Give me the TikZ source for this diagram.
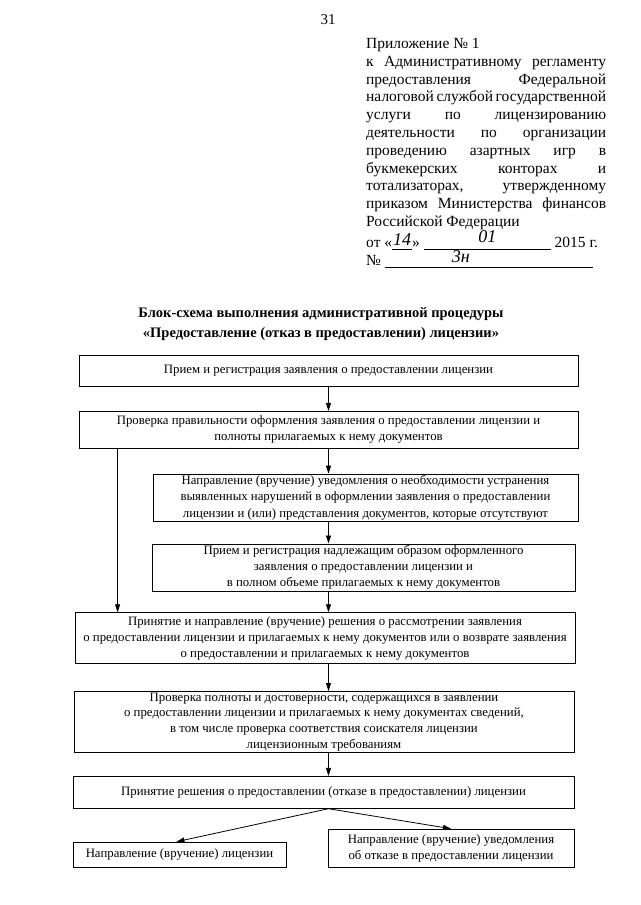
\documentclass[tikz,border=0pt]{standalone}
\usepackage{fontspec}
\setmainfont{Liberation Serif}
\usetikzlibrary{positioning, arrows.meta}

\newcommand{\jline}[1]{\makebox[240pt][s]{#1}}
\newcommand{\hw}{\itshape\fontsize{18}{18}\selectfont}

\begin{document}
\begin{tikzpicture}[x=1pt, y=1pt, node distance=25pt,
  blk/.style={draw, rectangle, line width=0.8pt, align=center, inner xsep=2pt, inner ysep=1pt,
    font=\fontsize{12.8}{16.2}\selectfont},
  arr/.style={-{Triangle[length=8pt, width=5pt]}, line width=0.8pt}]
\useasboundingbox (0,0) rectangle (640,-905);

\node (pg) at (328,-20) {\fontsize{15}{18}\selectfont 31};

% approval stamp
\node[anchor=north west, align=left, inner sep=0pt, font=\fontsize{15.5}{17.8}\selectfont] (appx) at (366,-38) {%
Приложение № 1\\
\jline{к Административному регламенту}\\
\jline{предоставления Федеральной}\\
\jline{налоговой службой государственной}\\
\jline{услуги по лицензированию}\\
\jline{деятельности по организации}\\
\jline{проведению азартных игр в}\\
\jline{букмекерских конторах и}\\
\jline{тотализаторах, утвержденному}\\
\jline{приказом Министерства финансов}\\
Российской Федерации\\
от «\underline{\makebox[20pt]{\raisebox{2pt}{\hw 14}}}» \underline{\makebox[127pt]{\raisebox{5pt}{\hw 01}}} 2015 г.\\
№ \underline{\makebox[208pt][l]{\hspace{67pt}\raisebox{3pt}{\hw 3н}}}};

\node[align=center, font=\bfseries\fontsize{14.5}{20}\selectfont] (title) at (321,-324)
  {Блок-схема выполнения административной процедуры\\«Предоставление (отказ в предоставлении) лицензии»};

% steps
\node[blk, minimum width=499pt, minimum height=31pt] (b1) at (328.5,-370.5)
  {Прием и регистрация заявления о предоставлении лицензии};
\node[blk, minimum width=499pt, minimum height=37pt, below=24.5pt of b1.south east, anchor=north east] (b2)
  {Проверка правильности оформления заявления о предоставлении лицензии и\\полноты прилагаемых к нему документов};
\node[blk, minimum width=425pt, minimum height=47pt, below=25pt of b2.south east, anchor=north east] (b3)
  {Направление (вручение) уведомления о необходимости устранения\\выявленных нарушений в оформлении заявления о предоставлении\\лицензии и (или) представления документов, которые отсутствуют};
\node[blk, minimum width=423pt, minimum height=47pt, below=22pt of b3.south east, anchor=north east, xshift=-3pt] (b4)
  {Прием и регистрация надлежащим образом оформленного\\заявления о предоставлении лицензии и\\в полном объеме прилагаемых к нему документов};
\node[blk, minimum width=500pt, minimum height=51pt, below=21pt of b4.south east, anchor=north east] (b5)
  {Принятие и направление (вручение) решения о рассмотрении заявления\\о предоставлении лицензии и прилагаемых к нему документов или о возврате заявления\\о предоставлении и прилагаемых к нему документов};
\node[blk, minimum width=500pt, minimum height=61pt, inner ysep=0pt, font=\fontsize{12.8}{15.8}\selectfont,
  below=27pt of b5.south east, anchor=north east, xshift=-1pt] (b6)
  {Проверка полноты и достоверности, содержащихся в заявлении\\о предоставлении лицензии и прилагаемых к нему документах сведений,\\в том числе проверка соответствия соискателя лицензии\\лицензионным требованиям};
\node[blk, minimum width=501pt, minimum height=32pt, below=23pt of b6.south east, anchor=north east] (b7)
  {Принятие решения о предоставлении (отказе в предоставлении) лицензии};
\node[blk, minimum width=213pt, minimum height=25pt, below=33pt of b7.south west, anchor=north west] (b8)
  {Направление (вручение) лицензии};
\node[blk, minimum width=246pt, minimum height=38pt, below=20pt of b7.south east, anchor=north east] (b9)
  {Направление (вручение) уведомления\\об отказе в предоставлении лицензии};

\coordinate (axis) at (b1.south);
\coordinate (lft) at ([xshift=39pt]b2.south west);

\draw[arr] (b1.south) -- (b2.north -| axis);
\draw[arr] (b2.south -| axis) -- (b3.north -| axis);
\draw[arr] (lft) -- (lft |- b5.north);
\draw[arr] (b3.south -| axis) -- (b4.north -| axis);
\draw[arr] (b4.south -| axis) -- (b5.north -| axis);
\draw[arr] (b5.south -| axis) -- (b6.north -| axis);
\draw[arr] (b6.south -| axis) -- (b7.north -| axis);
\draw[arr] (b7.south -| axis) -- ([xshift=-3pt]b8.north);
\draw[arr] (b7.south -| axis) -- (b9.north);
\end{tikzpicture}
\end{document}
